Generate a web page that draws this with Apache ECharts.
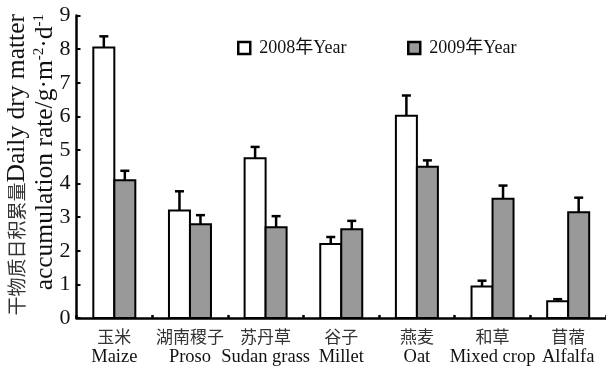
<!DOCTYPE html>
<html>
<head>
<meta charset="utf-8">
<script src="https://cdn.jsdelivr.net/npm/echarts@6/dist/echarts.min.js"></script>
<style>
  html, body { margin: 0; padding: 0; background: #ffffff; }
  #chart { width: 606px; height: 373px; }
</style>
</head>
<body>
<div id="chart"></div>
<script>
// Crop names (Chinese / English)
const cropsZh = ['玉米', '湖南稷子', '苏丹草', '谷子', '燕麦', '和草', '苜蓿'];
const cropsEn = ['Maize', 'Proso', 'Sudan grass', 'Millet', 'Oat', 'Mixed crop', 'Alfalfa'];

// Daily dry matter accumulation rate, g·m-2·d-1
const rate2008 = [8.05, 3.20, 4.75, 2.20, 6.02, 0.94, 0.50];
const rate2009 = [4.10, 2.79, 2.70, 2.64, 4.50, 3.55, 3.15];

// Standard errors (drawn upward only)
const err2008 = [0.33, 0.57, 0.34, 0.21, 0.60, 0.17, 0.06];
const err2009 = [0.28, 0.27, 0.33, 0.25, 0.19, 0.39, 0.43];

const yTicks = [0, 1, 2, 3, 4, 5, 6, 7, 8, 9];

const SERIF = "'Liberation Serif', 'Times New Roman', 'Noto Sans CJK SC', serif";
const CJK = "'Noto Sans CJK SC', sans-serif";
const BAR_W = 21;
const BORDER = 2;

const categories = cropsZh.map((z, i) => z + '\n' + cropsEn[i]);

// Outlined bar pair: side -1 sits left of the category centre, +1 right.
// The two bars share the border line at the centre.
function barSeries(name, values, errs, side, fill) {
  return {
    name: name,
    type: 'custom',
    z: 3,
    itemStyle: { color: fill },
    data: values.map((v, i) => [i, v, errs[i]]),
    encode: { x: 0, y: [1] },
    renderItem: function (params, api) {
      const i = api.value(0);
      const v = api.value(1);
      const e = api.value(2);
      const base = api.coord([i, 0]);
      const top = api.coord([i, v]);
      const errTop = api.coord([i, v + e]);
      const xl = side < 0 ? base[0] - BAR_W : base[0];
      const xm = xl + BAR_W / 2;
      const cap = 4.5;
      const st = { stroke: '#000', lineWidth: 2.5 };
      return {
        type: 'group',
        children: [
          {
            type: 'rect',
            shape: { x: xl, y: top[1], width: BAR_W, height: base[1] - top[1] },
            style: { fill: fill, stroke: '#000', lineWidth: BORDER }
          },
          { type: 'line', shape: { x1: xm, y1: top[1], x2: xm, y2: errTop[1] }, style: st, z2: 2 },
          { type: 'line', shape: { x1: xm - cap, y1: errTop[1], x2: xm + cap, y2: errTop[1] }, style: st, z2: 2 }
        ]
      };
    }
  };
}

const chart = echarts.init(document.getElementById('chart'), null, { renderer: 'canvas' });

const legendText = { fontFamily: SERIF, fontSize: 18, color: '#111', padding: [0, 0, 0, 4] };
const legendBase = {
  top: 39, padding: 0, itemWidth: 12, itemHeight: 12, icon: 'rect',
  textStyle: legendText,
  itemStyle: { borderColor: '#000', borderWidth: 2.5 }
};

chart.setOption({
  animation: false,
  backgroundColor: '#ffffff',
  grid: { left: 76.5, right: 0, top: 15.5, bottom: 55, containLabel: false },
  legend: [
    Object.assign({ data: ['2008年Year'], left: 237 }, legendBase),
    Object.assign({ data: ['2009年Year'], left: 407 }, legendBase)
  ],
  xAxis: {
    type: 'category',
    data: categories,
    axisLine: { lineStyle: { color: '#000', width: 2.5 } },
    axisTick: { show: true, inside: true, length: 3, lineStyle: { color: '#000', width: 2.5 } },
    axisLabel: {
      interval: 0, margin: 9, color: '#111', fontFamily: SERIF, fontSize: 18, lineHeight: 20,
      formatter: function (v) {
        const parts = v.split('\n');
        return '{zh|' + parts[0] + '}\n{en|' + parts[1] + '}';
      },
      rich: {
        zh: { fontFamily: CJK, fontSize: 17, lineHeight: 20, color: '#333' },
        en: { fontFamily: SERIF, fontSize: 18.5, lineHeight: 20, color: '#111' }
      }
    },
    splitLine: { show: false }
  },
  yAxis: {
    type: 'value',
    min: yTicks[0], max: yTicks[yTicks.length - 1], interval: 1,
    axisLine: { show: true, lineStyle: { color: '#000', width: 2.5 } },
    axisTick: { show: true, inside: true, length: 4, lineStyle: { color: '#000', width: 2 } },
    axisLabel: { margin: 6, color: '#111', fontFamily: SERIF, fontSize: 22 },
    splitLine: { show: false }
  },
  graphic: [
    {
      type: 'text', x: 17, y: 14, rotation: Math.PI / 2,
      style: {
        text: '{zh|干物质日积累量}{en|Daily dry matter}',
        align: 'right', verticalAlign: 'middle',
        rich: {
          zh: { fontFamily: CJK, fontSize: 19, fill: '#333' },
          en: { fontFamily: SERIF, fontSize: 25.5, fill: '#111' }
        }
      }
    },
    {
      type: 'text', x: 45.5, y: 14, rotation: Math.PI / 2,
      style: {
        text: '{en|accumulation rate/g·m}{sup|-2}{en|·d}{sup|-1}',
        align: 'right', verticalAlign: 'middle',
        rich: {
          en: { fontFamily: SERIF, fontSize: 25.5, fill: '#111', lineHeight: 28 },
          sup: { fontFamily: SERIF, fontSize: 15, fill: '#111', verticalAlign: 'top', lineHeight: 28 }
        }
      }
    }
  ],
  series: [
    barSeries('2008年Year', rate2008, err2008, -1, '#ffffff'),
    barSeries('2009年Year', rate2009, err2009, 1, '#999999')
  ]
});
</script>
</body>
</html>
